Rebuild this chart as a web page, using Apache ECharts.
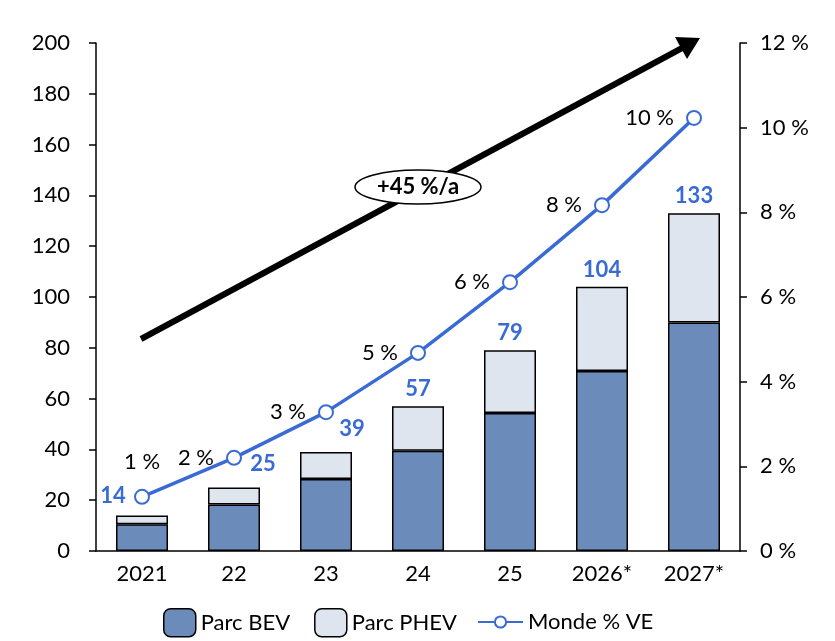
<!DOCTYPE html>
<html>
<head>
<meta charset="utf-8">
<script src="https://cdn.jsdelivr.net/npm/echarts@6/dist/echarts.min.js"></script>
<style>
  html, body { margin: 0; padding: 0; background: #fff; }
  #ch1 { width: 835px; height: 641px; }
</style>
</head>
<body>
<div id="ch1"></div>
<script>
var years = ['2021', '22', '23', '24', '25', '2026*', '2027*'];
var bev = [10.5, 18.3, 28.3, 39.5, 54.3, 70.9, 90];
var phev = [3.5, 6.7, 10.7, 17.5, 24.7, 33.1, 43];
var totals = [14, 25, 39, 57, 79, 104, 133];
var share = [1.28, 2.2, 3.28, 4.68, 6.35, 8.17, 10.23];
var shareLabels = ['1 %', '2 %', '3 %', '5 %', '6 %', '8 %', '10 %'];
var leftTicks = [0, 200, 20];
var rightTicks = [0, 12, 2];

window.onload = function() {
  var ch1 = echarts.init(document.getElementById('ch1'));
  var font = 'Lato, "Noto Sans", sans-serif';
  var blue = '#3a6bd4';
  var fs = 22;

  // offsets for the total labels that dodge the line
  var totalOffsets = [[-29, -3], [29, -7], [26, -6], [0, 0], [0, 0], [0, 0], [0, 0]];
  var phevData = phev.map(function(v, i) {
    return { value: v, label: { offset: totalOffsets[i] } };
  });
  var shareData = share.map(function(v, i) {
    return {
      value: v,
      label: i === 0 ? { position: 'top', distance: 16 } : { position: 'left', distance: 12 }
    };
  });

  var op1 = {
    textStyle: { fontFamily: font },
    animation: false,
    grid: { left: 96, right: 95, top: 43, bottom: 90 },
    legend: [{
      top: 603,
      left: 158,
      itemWidth: 32,
      itemHeight: 28,
      itemGap: 24,
      textStyle: { fontSize: fs, color: '#000', fontFamily: font },
      data: [
        { name: 'Parc BEV', itemStyle: { borderColor: '#000', borderWidth: 1.5 } },
        { name: 'Parc PHEV', itemStyle: { borderColor: '#000', borderWidth: 1.5 } }
      ]
    }, {
      top: 606,
      left: 472,
      itemWidth: 45,
      itemHeight: 14,
      textStyle: { fontSize: fs, color: '#000', fontFamily: font },
      data: ['Monde % VE']
    }],
    xAxis: {
      type: 'category',
      data: years,
      axisLine: { lineStyle: { color: '#000', width: 1.5 } },
      axisTick: { show: false },
      axisLabel: { fontSize: fs, color: '#000', margin: 12 }
    },
    yAxis: [{
      type: 'value',
      min: leftTicks[0], max: leftTicks[1], interval: leftTicks[2],
      axisLine: { show: true, lineStyle: { color: '#000', width: 1.5 } },
      axisTick: { show: true, length: 7, lineStyle: { color: '#000', width: 1.5 } },
      splitLine: { show: false },
      axisLabel: { fontSize: fs, color: '#000', margin: 26 }
    }, {
      type: 'value',
      min: rightTicks[0], max: rightTicks[1], interval: rightTicks[2],
      axisLine: { show: true, lineStyle: { color: '#000', width: 1.5 } },
      axisTick: { show: true, length: 7, lineStyle: { color: '#000', width: 1.5 } },
      splitLine: { show: false },
      axisLabel: { fontSize: fs, color: '#000', margin: 20, formatter: '{value} %' }
    }],
    graphic: [{
      type: 'line',
      shape: { x1: 141, y1: 339, x2: 684, y2: 47 },
      style: { stroke: '#000', lineWidth: 6 },
      z: 5
    }, {
      type: 'polygon',
      shape: { points: [[700, 38], [675, 37], [687, 59]] },
      style: { fill: '#000' },
      z: 5
    }, {
      type: 'ellipse',
      shape: { cx: 418, cy: 187, rx: 63, ry: 17 },
      style: { fill: '#fff', stroke: '#000', lineWidth: 1.5 },
      z: 6
    }, {
      type: 'text',
      x: 418, y: 187,
      style: {
        text: '+45 %/a', font: 'bold ' + fs + 'px ' + font, fill: '#000',
        align: 'center', verticalAlign: 'middle'
      },
      z: 7
    }],
    series: [{
      name: 'Parc BEV',
      type: 'bar',
      stack: 'parc',
      barWidth: 52,
      data: bev,
      itemStyle: { color: '#6b8cba', borderColor: '#000', borderWidth: 1.5 }
    }, {
      name: 'Parc PHEV',
      type: 'bar',
      stack: 'parc',
      barWidth: 52,
      data: phevData,
      itemStyle: { color: '#dfe5ef', borderColor: '#000', borderWidth: 1.5 },
      label: {
        show: true,
        position: 'top',
        distance: 6,
        fontSize: fs,
        fontWeight: 'bold',
        color: blue,
        fontFamily: font,
        formatter: function(p) { return totals[p.dataIndex]; }
      }
    }, {
      name: 'Monde % VE',
      type: 'line',
      yAxisIndex: 1,
      data: shareData,
      symbol: 'circle',
      symbolSize: 14,
      lineStyle: { color: blue, width: 3.5 },
      itemStyle: { color: '#fff', borderColor: blue, borderWidth: 2 },
      z: 4,
      label: {
        show: true,
        fontSize: fs,
        color: '#000',
        fontFamily: font,
        formatter: function(p) { return shareLabels[p.dataIndex]; }
      }
    }]
  };

  ch1.setOption(op1);
};
</script>
</body>
</html>
